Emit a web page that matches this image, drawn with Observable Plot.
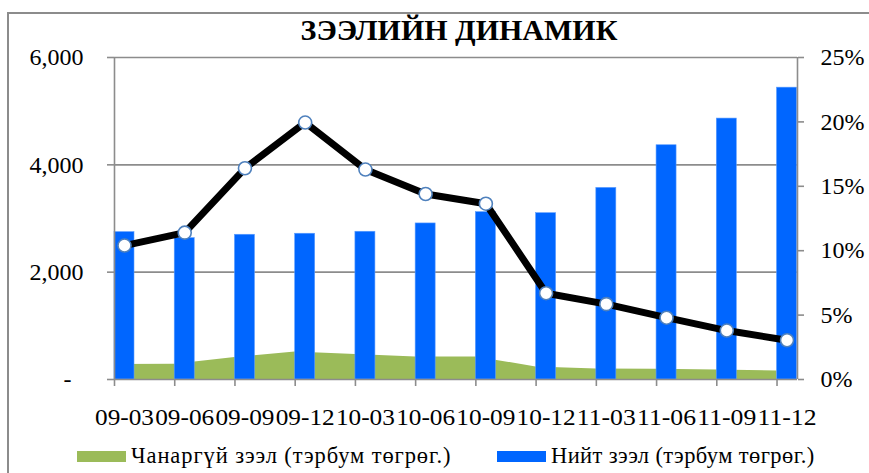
<!DOCTYPE html>
<html>
<head>
<meta charset="utf-8">
<script src="https://cdn.jsdelivr.net/npm/d3@7"></script>
<script src="https://cdn.jsdelivr.net/npm/@observablehq/plot@0.6"></script>
<style>
  html, body { margin: 0; padding: 0; background: #fff; overflow: hidden; }
  #wrap { position: relative; width: 869px; height: 473px; font-family: "Liberation Serif", "Times New Roman", serif; }
  #frame { position: absolute; left: 7px; top: 12px; width: 900px; height: 500px; border-left: 2px solid #8c8c8c; border-top: 2px solid #8c8c8c; box-sizing: border-box; pointer-events: none; }
  #title { position: absolute; left: 0; width: 918px; top: 13px; text-align: center; font-weight: bold; font-size: 30px; color: #000; }
  #chart { position: absolute; left: 0; top: 0; }
  .leg { position: absolute; top: 443px; height: 26px; font-size: 22.5px; line-height: 26px; color: #000; display: flex; align-items: center; white-space: nowrap; }
  .sw { width: 49px; height: 11px; margin-right: 5px; }
</style>
</head>
<body>
<div id="wrap">
  <div id="chart"></div>
  <div id="frame"></div>
  <div id="title">ЗЭЭЛИЙН ДИНАМИК</div>
  <div class="leg" style="left:77px; letter-spacing:0.9px"><div class="sw" style="background:#9BBB59"></div>Чанаргүй зээл (тэрбум төгрөг.)</div>
  <div class="leg" style="left:497px; letter-spacing:0.4px"><div class="sw" style="background:#0066FF"></div>Нийт зээл (тэрбум төгрөг.)</div>
</div>
<script>
// Data
const periods = ["09-03","09-06","09-09","09-12","10-03","10-06","10-09","10-12","11-03","11-06","11-09","11-12"];
const totalLoans = [2746, 2634, 2697, 2716, 2753, 2908, 3118, 3099, 3570, 4365, 4862, 5438];   // Нийт зээл
const badLoans   = [280, 285, 410, 513, 465, 420, 420, 234, 197, 192, 179, 160];                // Чанаргүй зээл
const badRatio   = [10.4, 11.4, 16.4, 19.95, 16.3, 14.4, 13.65, 6.7, 5.85, 4.8, 3.8, 3.05];   // %
const leftTicks  = [0, 2000, 4000, 6000];
const rightTicks = [0, 5, 10, 15, 20, 25];

const Y_MAX = 6000, P_MAX = 25, k = Y_MAX / P_MAX;
const barW = 0.332, half = barW / 2;
const rows = periods.map((p, i) => ({i, p, total: totalLoans[i], bad: badLoans[i], ratio: badRatio[i] * k}));
const grey = "#8c8c8c";

const chart = Plot.plot({
  width: 869,
  height: 473,
  marginLeft: 114,
  marginRight: 72,
  marginTop: 57,
  marginBottom: 94,
  style: {fontFamily: "'Liberation Serif', 'Times New Roman', serif", fontSize: "24px", color: "#000", background: "transparent"},
  x: {type: "linear", domain: [0, 11.34], axis: null},
  y: {domain: [0, Y_MAX], axis: null},
  marks: [
    Plot.gridY(leftTicks.slice(1), {stroke: grey, strokeOpacity: 1, strokeWidth: 1.6}),
    Plot.areaY(rows, {x: "i", y: "bad", fill: "#9BBB59", curve: "linear"}),
    Plot.rectY(rows, {x1: "i", x2: d => d.i + barW, y: "total", fill: "#0066FF", stroke: "#5a9cff", strokeWidth: 0.6}),
    Plot.ruleX([0, 11.34], {stroke: grey, strokeWidth: 1.6}),
    Plot.ruleY([0], {stroke: grey, strokeWidth: 1.6}),
    Plot.axisY({anchor: "left", ticks: leftTicks, tickSize: 7, tickPadding: 24, stroke: grey, strokeWidth: 1.6, label: null,
      tickFormat: d => d === 0 ? "-\u2007" : d3.format(",")(d), fontSize: 24}),
    Plot.axisY({anchor: "right", ticks: rightTicks.map(v => v * k), tickSize: 6, tickPadding: 17, stroke: grey, strokeWidth: 1.6, label: null,
      tickFormat: d => Math.round(d / k) + "%", fontSize: 24}),
    Plot.axisX({anchor: "bottom", ticks: d3.range(12), tickSize: 7, tickFormat: () => "", stroke: grey, strokeWidth: 1.6, label: null}),
    Plot.axisX({anchor: "bottom", ticks: d3.range(12).map(i => i + half), tickSize: 0, tickPadding: 29, label: null,
      tickFormat: d => periods[Math.round(d - half)], fontSize: 23.5, className: "xlab"}),
    Plot.line(rows, {x: d => d.i + half, y: "ratio", stroke: "#000", strokeWidth: 7, strokeLinejoin: "round"}),
    Plot.dot(rows, {x: d => d.i + half, y: "ratio", r: 6.5, fill: "#fff", stroke: "#4F81BD", strokeWidth: 1.6})
  ]
});
document.getElementById("chart").appendChild(chart);
// stretch the period labels so that they touch, as in the reference
chart.querySelectorAll(".xlab text").forEach(t => {
  t.setAttribute("textLength", "59");
  t.setAttribute("lengthAdjust", "spacingAndGlyphs");
});
</script>
</body>
</html>
